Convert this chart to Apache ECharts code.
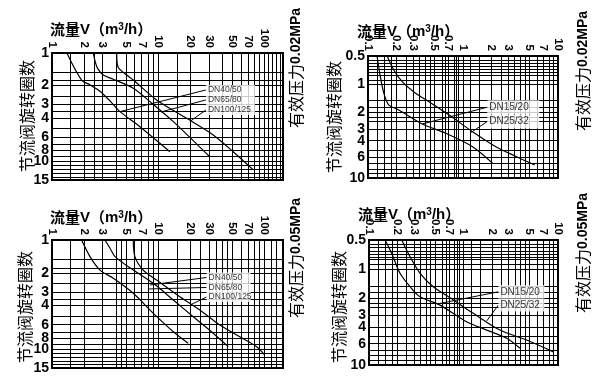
<!DOCTYPE html>
<html><head><meta charset="utf-8">
<script src="https://cdn.jsdelivr.net/npm/echarts@6/dist/echarts.min.js"></script>
<style>html,body{margin:0;padding:0;background:#fff}#c{width:607px;height:381px}</style>
</head><body><div id="c"></div>
<script>
// ---------------- data ----------------
// tick labels
const flowLabelsLarge = [1, 2, 3, 5, 7, 10, 20, 30, 50, 70, 100];
const flowLabelsSmall = [0.1, 0.2, 0.3, 0.5, 0.7, 1, 2, 3, 5, 7, 10];
const turnLabelsLarge = [1, 2, 3, 4, 6, 8, 10, 15];
const turnLabelsSmall = [0.5, 1, 2, 3, 4, 6, 8, 10];
// grid line values
const flowGridTL = [1.5, 2, 2.5, 3, 4, 5, 6, 7, 8, 9, 10, 15, 20, 30, 40, 50, 60, 70, 80, 90, 100, 110, 120, 130, 140];
const flowGridBL = [1.5, 2, 3, 4, 4.5, 5, 6, 7, 8, 9, 10, 15, 20, 25, 30, 35, 40, 45, 50, 60, 70, 80, 90, 100, 115, 130];
const flowGridSmall = [0.125, 0.15, 0.175, 0.2, 0.25, 0.3, 0.35, 0.4, 0.45, 0.5, 0.6, 0.65, 0.7, 0.8, 0.85, 0.9, 1, 1.2, 1.5, 2, 2.5, 3, 3.5, 4, 4.5, 5, 6, 7, 8, 9];
const turnGridLarge = [1.5, 1.8, 2, 2.5, 3, 3.5, 4, 5, 6, 7, 8, 9, 10, 11, 12, 13, 14];
const turnGridSmall = [0.55, 0.6, 0.65, 0.7, 0.75, 0.8, 0.9, 1, 1.5, 1.75, 2, 2.25, 2.5, 3, 4, 5, 6, 7, 8, 9];
// series names
const namesLarge = ['DN40/50', 'DN65/80', 'DN100/125'];
const namesSmall = ['DN15/20', 'DN25/32'];
// top-left: 0.02MPa, [flow m3/h, turns]
const tlDN40 = [[1.38, 1], [1.9, 1.78], [2.28, 1.97], [2.83, 2.26], [3.52, 2.78], [4.37, 3.49], [6.73, 4.82], [12.9, 8.21]];
const tlDN65 = [[2.45, 1], [2.55, 1.2], [2.68, 1.38], [3.04, 1.6], [3.78, 1.75], [5.83, 2.12], [8.37, 2.82], [13.9, 4.32], [30.6, 9.14]];
const tlDN100 = [[4.07, 1], [4.18, 1.34], [5.05, 1.6], [5.83, 1.78], [9.67, 2.72], [18.6, 4.03], [33.0, 5.74], [50.9, 8.21], [78.7, 12.1]];
const tlLabelX = 28.2;
const tlLabelY = [2.2, 2.72, 3.37];
const tlLeaderEnds = [[4.37, 3.49], [10.6, 3.52], [19.9, 4.31]];
// top-right: 0.02MPa
const trDN15 = [[0.1245, 0.5], [0.134, 0.8], [0.147, 1.25], [0.166, 1.67], [0.211, 1.88], [0.373, 2.65], [0.658, 3.33], [1.26, 4.64], [2.05, 6.97]];
const trDN25 = [[0.159, 0.5], [0.187, 0.705], [0.229, 0.94], [0.317, 1.25], [0.439, 1.54], [0.714, 2.13], [1.26, 3.21], [2.22, 4.64], [3.62, 5.9], [5.67, 7.25]];
const trLabelX = 1.8;
const trLabelY = [1.76, 2.5];
const trLeaderEnds = [[0.373, 2.65], [1.21, 3.28]];
// bottom-left: 0.05MPa
const blDN40 = [[1.9, 1], [2.28, 1.42], [2.83, 1.89], [3.78, 2.25], [5.83, 3.09], [9.0, 4.72], [13.9, 6.96], [19.2, 8.89]];
const blDN65 = [[3.15, 1], [3.52, 1.19], [3.92, 1.42], [5.83, 1.89], [9.0, 2.5], [13.9, 3.56], [21.4, 5.07], [33.0, 7.19], [45.7, 9.55]];
const blDN100 = [[5.83, 1], [6.04, 1.42], [7.23, 1.89], [9.67, 2.33], [16.0, 3.32], [24.7, 4.4], [38.2, 6.04], [58.8, 7.76], [84.7, 9.55], [101, 11.4]];
const blLabelX = 28.6;
const blLabelY = [2.21, 2.73, 3.34];
const blLeaderEnds = [[8.37, 2.59], [8.0, 2.82], [20.8, 3.88]];
// bottom-right: 0.05MPa
const brDN15 = [[0.148, 0.5], [0.174, 0.69], [0.213, 1.11], [0.272, 1.53], [0.347, 1.95], [0.564, 2.38], [1.08, 3.54], [1.76, 4.33], [2.87, 5.28], [3.96, 6.7]];
const brDN25 = [[0.222, 0.5], [0.272, 0.747], [0.347, 1.11], [0.479, 1.53], [0.78, 2.1], [1.27, 2.9], [2.43, 4.33], [4.66, 5.5], [8.92, 7.3]];
const brLabelX = 2.34;
const brLabelY = [1.73, 2.38];
const brLeaderEnds = [[0.524, 2.32], [1.76, 3.48]];
// texts
const flowTitle = ['流量', 'V', '（', 'm', '3', '/h', '）'];
const turnName = '节流阀旋转圈数';
const pressureText = ['有效压力', '0.02MPa', '0.05MPa'];

// ---------------- layout ----------------
const panels = [
  { grid: {left: 52, top: 53, width: 231, height: 127}, xr: [1, 150], yr: [1, 15.001],
    xLabels: flowLabelsLarge, yLabels: turnLabelsLarge, xLines: flowGridTL, yLines: turnGridLarge,
    curves: [tlDN40, tlDN65, tlDN100], names: namesLarge, lx: tlLabelX, ly: tlLabelY, ends: tlLeaderEnds,
    nPos: [27, 116], lFont: 8.5, lW: 47, lH: 10, press: pressureText[1], pPos: [296, 68], tPos: [50, 22] },
  { grid: {left: 368, top: 56, width: 190, height: 122}, xr: [0.1, 10.001], yr: [0.5, 10.001],
    xLabels: flowLabelsSmall, yLabels: turnLabelsSmall, xLines: flowGridSmall, yLines: turnGridSmall,
    curves: [trDN15, trDN25], names: namesSmall, lx: trLabelX, ly: trLabelY, ends: trLeaderEnds,
    nPos: [334, 117], lFont: 10, lW: 50, lH: 14, press: pressureText[1], pPos: [583, 71], tPos: [357, 24] },
  { grid: {left: 52, top: 240, width: 231, height: 128}, xr: [1, 150], yr: [1, 15.001],
    xLabels: flowLabelsLarge, yLabels: turnLabelsLarge, xLines: flowGridBL, yLines: turnGridLarge,
    curves: [blDN40, blDN65, blDN100], names: namesLarge, lx: blLabelX, ly: blLabelY, ends: blLeaderEnds,
    nPos: [25, 307], lFont: 8.5, lW: 42, lH: 10, press: pressureText[2], pPos: [296, 258], tPos: [50, 210] },
  { grid: {left: 369, top: 240, width: 189, height: 125}, xr: [0.1, 10.001], yr: [0.5, 10.001],
    xLabels: flowLabelsSmall, yLabels: turnLabelsSmall, xLines: flowGridSmall, yLines: turnGridSmall,
    curves: [brDN15, brDN25], names: namesSmall, lx: brLabelX, ly: brLabelY, ends: brLeaderEnds,
    nPos: [339, 307], lFont: 10, lW: 44, lH: 13, press: pressureText[2], pPos: [583, 253], tPos: [358, 207] }
];

const fmt = v => String(+Number(v).toPrecision(6));
const NUM = 'Liberation Sans';
const CJK = '"Noto Sans CJK SC"';

const option = {
  animation: false,
  backgroundColor: '#fff',
  grid: [], xAxis: [], yAxis: [], series: [], title: [], graphic: []
};

panels.forEach((p, i) => {
  option.grid.push(Object.assign({show: true, borderColor: '#000', borderWidth: 2, backgroundColor: 'transparent', outerBoundsMode: 'none', containLabel: false}, p.grid));
  option.xAxis.push({
    type: 'log', logBase: 10, gridIndex: i, position: 'top', min: p.xr[0], max: p.xr[1],
    axisLine: {show: false}, axisTick: {show: false, customValues: p.xLines},
    minorTick: {show: false}, minorSplitLine: {show: false},
    axisLabel: {customValues: p.xLabels, rotate: 90, margin: 5, color: '#000', fontFamily: NUM, fontWeight: 'bold', fontSize: 11.5, formatter: fmt,
      showMinLabel: true, showMaxLabel: true, hideOverlap: false},
    splitLine: {show: true, lineStyle: {color: '#000', width: 1}}
  });
  option.yAxis.push({
    type: 'log', logBase: 10, gridIndex: i, inverse: true, min: p.yr[0], max: p.yr[1],
    axisLine: {show: false}, axisTick: {show: false, customValues: p.yLines},
    minorTick: {show: false}, minorSplitLine: {show: false},
    axisLabel: {customValues: p.yLabels, margin: 3, color: '#000', fontFamily: NUM, fontWeight: 'bold', fontSize: 14, formatter: fmt,
      showMinLabel: true, showMaxLabel: true, hideOverlap: false},
    splitLine: {show: true, lineStyle: {color: '#000', width: 1}}
  });
  p.curves.forEach((c, k) => {
    option.series.push({
      type: 'line', name: p.names[k], xAxisIndex: i, yAxisIndex: i, data: c,
      symbol: 'none', smooth: 0.3, silent: true, z: 3,
      lineStyle: {color: '#000', width: 1.2}
    });
  });
  p.ends.forEach((e, k) => {
    option.series.push({
      type: 'line', xAxisIndex: i, yAxisIndex: i, data: [[p.lx, p.ly[k]], e],
      symbol: 'none', silent: true, z: 4, lineStyle: {color: '#000', width: 1}
    });
  });
  option.series.push({
    type: 'scatter', xAxisIndex: i, yAxisIndex: i, symbolSize: 0, silent: true, z: 5,
    data: p.names.map((n, k) => ({value: [p.lx, p.ly[k]], name: n})),
    label: {show: true, position: 'right', distance: 0, formatter: '{b}', backgroundColor: '#fff',
      padding: [0, 0, 0, 2], width: p.lW, height: p.lH, lineHeight: p.lH, overflow: 'none',
      color: '#000', fontFamily: NUM, fontSize: p.lFont},
    emphasis: {disabled: true}
  });
  option.title.push({
    left: p.tPos[0], top: p.tPos[1], padding: 0,
    text: '{c|' + flowTitle[0] + '}{b|' + flowTitle[1] + '}{c|' + flowTitle[2] + '}{b|' + flowTitle[3] + '}{s|' + flowTitle[4] + '}{b|' + flowTitle[5] + '}{c|' + flowTitle[6] + '}',
    textStyle: {rich: {
      c: {fontFamily: CJK, fontSize: 15, color: '#000', verticalAlign: 'middle'},
      b: {fontFamily: NUM, fontWeight: 'bold', fontSize: 15, color: '#000', verticalAlign: 'middle'},
      s: {fontFamily: NUM, fontWeight: 'bold', fontSize: 10, color: '#000', verticalAlign: 'top'}
    }}
  });
  option.graphic.push({
    type: 'text', x: p.nPos[0], y: p.nPos[1], rotation: Math.PI / 2, silent: true,
    style: {text: turnName, align: 'center', verticalAlign: 'middle', font: '16px ' + CJK, fill: '#000'}
  });
  option.graphic.push({
    type: 'text', x: p.pPos[0], y: p.pPos[1], rotation: Math.PI / 2, silent: true,
    style: {
      text: '{a|' + pressureText[0] + '}{b|' + p.press + '}', align: 'center', verticalAlign: 'middle',
      rich: {
        a: {fontFamily: CJK, fontSize: 16, fill: '#000'},
        b: {fontFamily: NUM, fontWeight: 'bold', fontSize: 14, fill: '#000'}
      }
    }
  });
});

const chart = echarts.init(document.getElementById('c'), null, {renderer: 'canvas'});
chart.setOption(option);
</script></body></html>
